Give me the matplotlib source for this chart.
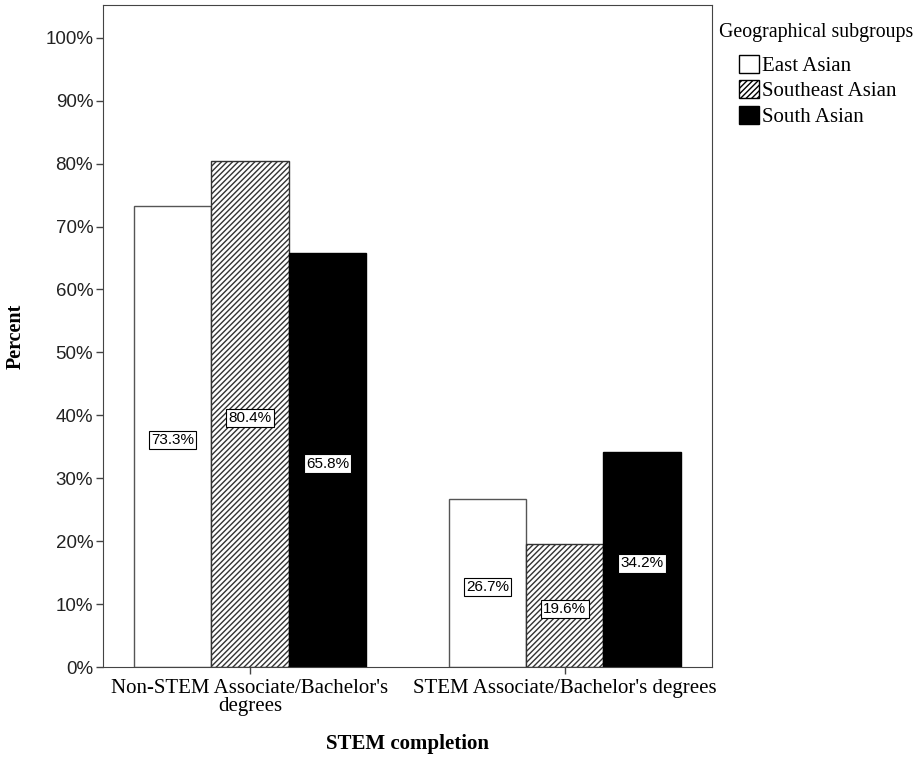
import numpy as np
import matplotlib.pyplot as plt
import matplotlib as mpl

mpl.rcParams['hatch.linewidth'] = 1.0

# data
categories = ["Non-STEM Associate/Bachelor's\ndegrees", "STEM Associate/Bachelor's degrees"]
groups = ['East Asian', 'Southeast Asian', 'South Asian']
values = {
    'East Asian': [73.3, 26.7],
    'Southeast Asian': [80.4, 19.6],
    'South Asian': [65.8, 34.2],
}
yticks = [0, 10, 20, 30, 40, 50, 60, 70, 80, 90, 100]

faces = ['white', 'white', 'black']
hatches = [None, '//////', None]
edges = ['#555555', '#333333', 'black']

fig = plt.figure(figsize=(9.21, 7.65), dpi=100)
ax = fig.add_axes([0.1118, 0.128, 0.661, 0.8655])

x = np.arange(len(categories))
w = 0.246
for i, g in enumerate(groups):
    xs = x + (i - 1) * w
    ax.bar(xs, values[g], width=w, color=faces[i], edgecolor=edges[i],
           hatch=hatches[i], linewidth=1.0, label=g)
    for xx, v in zip(xs, values[g]):
        ax.text(xx, v / 2 - 0.6, '%.1f%%' % v, ha='center', va='center',
                fontsize=11, family='Liberation Sans',
                bbox=dict(boxstyle='square,pad=0.15', fc='white', ec='black', lw=0.8))

ax.set_xlim(-0.467, 1.467)
ax.set_ylim(0, 105.2)
ax.set_yticks(yticks)
ax.set_yticklabels(['%d%%' % t for t in yticks], family='Liberation Sans', fontsize=13.5, color='#222222')
ax.set_xticks(x)
ax.set_xticklabels(categories, family='Liberation Serif', fontsize=15, linespacing=0.95)
ax.tick_params(length=5, width=1.0, color='#444444')
ax.tick_params(axis='y', pad=2)
for s in ax.spines.values():
    s.set_color('#444444')

ax.set_ylabel('Percent', family='Liberation Serif', fontweight='bold', fontsize=14.5)
ax.yaxis.set_label_coords(-0.127, 0.5)
ax.set_xlabel('STEM completion', family='Liberation Serif', fontweight='bold', fontsize=15, labelpad=13)

fig.text(719 / 921, 1 - 33 / 765, 'Geographical subgroups', family='Liberation Serif',
         fontsize=14.3, va='center', ha='left')
handles, labels = ax.get_legend_handles_labels()
leg = fig.legend(handles, labels, loc='upper left', bbox_to_anchor=(739 / 921, 1 - 55 / 765),
                 frameon=False, handlelength=0.95, handleheight=0.95,
                 handletextpad=0.15, labelspacing=0.2, borderpad=0, borderaxespad=0,
                 prop={'family': 'Liberation Serif', 'size': 15})
for h in leg.legend_handles:
    h.set_edgecolor('black')

fig.savefig('out.png', dpi=100)
